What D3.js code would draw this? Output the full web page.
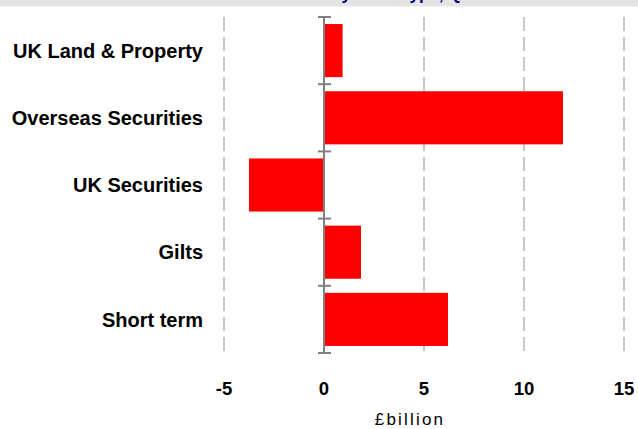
<!DOCTYPE html>
<html>
<head>
<meta charset="utf-8">
<script src="https://cdn.jsdelivr.net/npm/d3@7"></script>
<style>
  body { margin: 0; background: #fff; }
  svg { display: block; font-family: "Liberation Sans", Arial, sans-serif; }
</style>
</head>
<body>
<div id="chart"></div>
<script>
const categories = ["UK Land & Property", "Overseas Securities", "UK Securities", "Gilts", "Short term"]
const values = [0.93, 11.95, -3.75, 1.85, 6.2]
const xTicks = [-5, 0, 5, 10, 15]

const width = 638, height = 429
const margin = { top: 17, right: 14, bottom: 76, left: 224 }

const svg = d3.select("#chart")
  .append("svg")
  .attr("width", width)
  .attr("height", height)

// cut-off title band
svg.append("rect")
  .attr("x", 0).attr("y", 0)
  .attr("width", width).attr("height", 6.5)
  .attr("fill", "#e5e5e5")
svg.append("text")
  .attr("x", 331).attr("y", -0.5)
  .attr("fill", "#000080")
  .attr("font-size", "17px")
  .attr("font-weight", "bold")
  .text("by asset type, Q1")

const x = d3.scaleLinear()
  .domain([-5, 15])
  .range([margin.left, width - margin.right])

const y = d3.scaleBand()
  .domain(categories)
  .range([margin.top, height - margin.bottom])
  .paddingInner(0.21)
  .paddingOuter(0.105)

// dashed grid
svg.append("g")
  .selectAll("line")
  .data(xTicks.filter(d => d !== 0))
  .join("line")
  .attr("x1", d => x(d)).attr("x2", d => x(d))
  .attr("y1", margin.top).attr("y2", height - margin.bottom)
  .attr("stroke", "#c8c8c8")
  .attr("stroke-width", 2)
  .attr("stroke-dasharray", "14,6")

// bars
svg.append("g")
  .selectAll("rect")
  .data(values)
  .join("rect")
  .attr("x", d => x(Math.min(0, d)))
  .attr("width", d => Math.abs(x(d) - x(0)))
  .attr("y", (d, i) => y(categories[i]))
  .attr("height", y.bandwidth())
  .attr("fill", "#ff0000")

// category axis at zero
const step = y.step()
const bounds = d3.range(categories.length + 1).map(i => margin.top + i * step)
const ax = svg.append("g")
ax.append("line")
  .attr("x1", x(0)).attr("x2", x(0))
  .attr("y1", margin.top).attr("y2", height - margin.bottom)
  .attr("stroke", "#808080").attr("stroke-width", 2)
ax.selectAll(".tk")
  .data(bounds)
  .join("line")
  .attr("class", "tk")
  .attr("x1", x(0) - 6).attr("x2", x(0) + 7)
  .attr("y1", d => d).attr("y2", d => d)
  .attr("stroke", "#808080").attr("stroke-width", 2)

// category labels
svg.append("g")
  .selectAll("text")
  .data(categories)
  .join("text")
  .attr("x", 203)
  .attr("y", d => y(d) + y.bandwidth() / 2)
  .attr("dy", "0.36em")
  .attr("text-anchor", "end")
  .attr("font-size", "20px")
  .attr("font-weight", "bold")
  .attr("fill", "#000")
  .text(d => d)

// x tick labels
svg.append("g")
  .selectAll("text")
  .data(xTicks)
  .join("text")
  .attr("x", d => x(d))
  .attr("y", 395)
  .attr("text-anchor", "middle")
  .attr("font-size", "18.5px")
  .attr("font-weight", "bold")
  .text(d => d)

svg.append("text")
  .attr("x", 410)
  .attr("y", 425)
  .attr("text-anchor", "middle")
  .attr("font-size", "17px")
  .attr("letter-spacing", "2.2px")
  .text("£billion")
</script>
</body>
</html>
